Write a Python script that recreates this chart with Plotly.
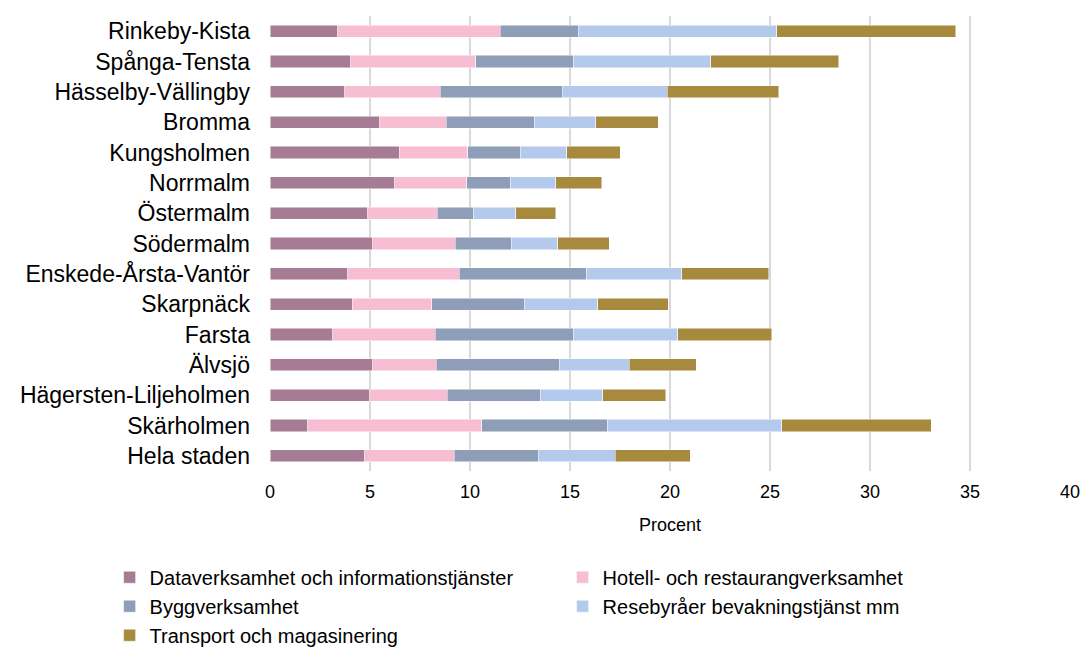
import plotly.graph_objects as go

categories = ["Rinkeby-Kista", "Spånga-Tensta", "Hässelby-Vällingby", "Bromma", "Kungsholmen",
              "Norrmalm", "Östermalm", "Södermalm", "Enskede-Årsta-Vantör", "Skarpnäck",
              "Farsta", "Älvsjö", "Hägersten-Liljeholmen", "Skärholmen", "Hela staden"]

data_info = [3.38, 4.03, 3.73, 5.49, 6.46, 6.23, 4.88, 5.13, 3.89, 4.11, 3.14, 5.14, 4.99, 1.88, 4.73]
hotell = [8.13, 6.26, 4.77, 3.33, 3.43, 3.60, 3.48, 4.13, 5.58, 3.98, 5.12, 3.17, 3.87, 8.70, 4.49]
bygg = [3.92, 4.89, 6.12, 4.40, 2.62, 2.20, 1.82, 2.83, 6.37, 4.63, 6.92, 6.17, 4.68, 6.30, 4.22]
resebyra = [9.91, 6.85, 5.23, 3.07, 2.32, 2.25, 2.10, 2.30, 4.75, 3.67, 5.20, 3.48, 3.10, 8.70, 3.83]
transport = [8.95, 6.40, 5.59, 3.13, 2.68, 2.30, 2.00, 2.58, 4.34, 3.52, 4.70, 3.35, 3.14, 7.47, 3.73]

series_names = ["Dataverksamhet och informationstjänster", "Hotell- och restaurangverksamhet",
                "Byggverksamhet", "Resebyråer bevakningstjänst mm", "Transport och magasinering"]
series_values = [data_info, hotell, bygg, resebyra, transport]
colors = ["#A67C94", "#F7BDD2", "#8E9EB8", "#B4CAEC", "#A88A3E"]

x_ticks = [0, 5, 10, 15, 20, 25, 30, 35, 40]

FONT = "Liberation Sans, Arial, sans-serif"

fig = go.Figure()
for name, vals, col in zip(series_names, series_values, colors):
    fig.add_trace(go.Bar(
        y=categories, x=vals, name=name, orientation="h",
        marker=dict(color=col, line=dict(color="rgba(255,255,255,0.6)", width=0.8)),
    ))

fig.update_layout(
    width=1084, height=649,
    barmode="stack", bargap=0.6,
    plot_bgcolor="white", paper_bgcolor="white",
    margin=dict(l=270, r=14, t=16, b=178, autoexpand=False),
    font=dict(family=FONT, color="#000000"),
    legend=dict(orientation="h", x=-0.2005, xanchor="left", y=-0.1906, yanchor="top",
                font=dict(size=20, family=FONT), entrywidth=408, entrywidthmode="pixels",
                traceorder="normal", itemwidth=30, tracegroupgap=0),
    xaxis=dict(range=[0, 40], tickvals=x_ticks, showgrid=True, gridcolor="#D9D9D9", gridwidth=1.5,
               zeroline=False, showline=False, tickfont=dict(size=18), automargin=False,
               title=dict(text="Procent", font=dict(size=18), standoff=17), ticklabelstandoff=8),
    yaxis=dict(categoryorder="array", categoryarray=categories, range=[14.5, -0.5],
               showgrid=False, zeroline=False, showline=False, tickfont=dict(size=23),
               ticklabelstandoff=19, automargin=False),
    showlegend=True,
)

# remove the default 8px body margin so the figure fills the window exactly
fig.write_html("out.html", config={"displayModeBar": False},
               post_script="document.body.style.margin='0';document.body.style.overflow='hidden';")
